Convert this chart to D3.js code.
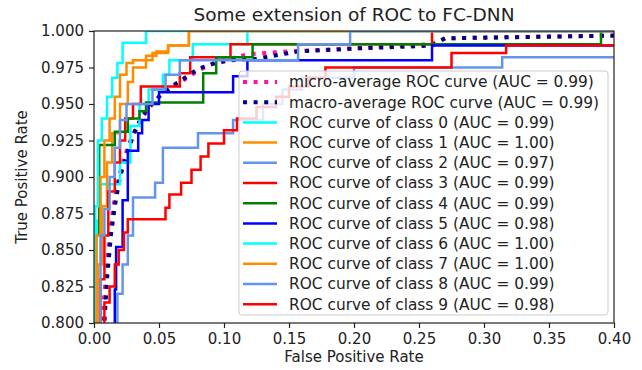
<!DOCTYPE html>
<html>
<head>
<meta charset="utf-8">
<script src="https://cdn.jsdelivr.net/npm/d3@7"></script>
<style>
  body { margin: 0; background: #fff; }
  text { font-family: "DejaVu Sans", sans-serif; fill: #222; }
</style>
</head>
<body>
<script>
// values: [false positive rate, true positive rate]
const microROC = [[0.004,0.78],[0.006,0.8],[0.008,0.82],[0.01,0.84],[0.012,0.86],[0.015,0.88],[0.019,0.9],[0.024,0.915],[0.028,0.925],[0.033,0.935],[0.038,0.942],[0.045,0.95],[0.053,0.958],[0.062,0.963],[0.072,0.968],[0.08,0.973],[0.09,0.977],[0.1,0.98],[0.118,0.984],[0.15,0.986],[0.2,0.988],[0.26,0.991],[0.27,0.995],[0.41,0.997]];
const macroROC = [[0.006,0.78],[0.008,0.8],[0.01,0.83],[0.013,0.86],[0.016,0.88],[0.02,0.9],[0.025,0.915],[0.03,0.928],[0.036,0.94],[0.042,0.948],[0.05,0.955],[0.06,0.962],[0.07,0.968],[0.08,0.974],[0.093,0.978],[0.105,0.98],[0.125,0.981],[0.157,0.986],[0.2,0.988],[0.26,0.99],[0.27,0.995],[0.41,0.997]];

// class curves: each point is where the step goes up (fpr, tpr after the jump)
const class0ROC = [[0.002,0.7],[0.002,0.87],[0.005,0.895],[0.02,0.91],[0.028,0.935],[0.035,0.95],[0.042,0.96],[0.053,0.97],[0.058,0.98],[0.076,0.991],[0.118,1.0],[0.41,1.0]];
const class1ROC = [[0.003,0.7],[0.003,0.84],[0.006,0.88],[0.01,0.91],[0.014,0.93],[0.02,0.95],[0.026,0.965],[0.03,0.975],[0.04,0.983],[0.048,0.986],[0.057,0.99],[0.073,1.0],[0.41,1.0]];
const class2ROC = [[0.012,0.7],[0.018,0.82],[0.022,0.84],[0.026,0.86],[0.03,0.886],[0.047,0.896],[0.053,0.92],[0.08,0.93],[0.107,0.939],[0.13,0.95],[0.145,0.96],[0.16,0.968],[0.2,0.975],[0.314,0.982],[0.41,0.982]];
const class3ROC = [[0.005,0.7],[0.005,0.83],[0.008,0.86],[0.011,0.89],[0.016,0.91],[0.02,0.925],[0.024,0.94],[0.03,0.95],[0.036,0.962],[0.066,0.971],[0.074,0.982],[0.105,0.991],[0.26,1.0],[0.41,1.0]];
const class4ROC = [[0.001,0.7],[0.001,0.86],[0.004,0.922],[0.016,0.931],[0.026,0.94],[0.035,0.945],[0.04,0.951],[0.084,0.971],[0.094,0.982],[0.122,0.991],[0.39,1.0],[0.41,1.0]];
const class5ROC = [[0.016,0.7],[0.016,0.823],[0.017,0.852],[0.022,0.884],[0.026,0.918],[0.034,0.93],[0.037,0.939],[0.042,0.95],[0.05,0.958],[0.107,0.969],[0.118,0.98],[0.26,0.99],[0.41,0.99]];
const class6ROC = [[0.001,0.7],[0.001,0.88],[0.003,0.925],[0.006,0.94],[0.01,0.955],[0.014,0.968],[0.018,0.978],[0.022,0.992],[0.04,1.0],[0.41,1.0]];
const class7ROC = [[0.002,0.7],[0.002,0.86],[0.005,0.9],[0.008,0.925],[0.012,0.94],[0.016,0.955],[0.02,0.97],[0.025,0.978],[0.03,0.98],[0.045,0.985],[0.057,0.99],[0.073,1.0],[0.41,1.0]];
const class8ROC = [[0.005,0.7],[0.005,0.86],[0.008,0.878],[0.012,0.9],[0.016,0.92],[0.02,0.939],[0.025,0.95],[0.045,0.96],[0.055,0.97],[0.066,0.98],[0.157,0.991],[0.197,1.0],[0.41,1.0]];
const class9ROC = [[0.008,0.7],[0.008,0.814],[0.012,0.825],[0.016,0.84],[0.019,0.85],[0.023,0.862],[0.026,0.871],[0.055,0.879],[0.058,0.888],[0.067,0.896],[0.075,0.905],[0.082,0.914],[0.088,0.923],[0.1,0.932],[0.11,0.94],[0.125,0.948],[0.14,0.955],[0.15,0.962],[0.165,0.968],[0.178,0.975],[0.275,0.985],[0.317,0.99],[0.41,0.99]];

const classAUC = ["0.99","1.00","0.97","0.99","0.99","0.98","1.00","1.00","0.99","0.98"];
const averageAUC = ["0.99","0.99"];
const xTicks = [0, 0.05, 0.10, 0.15, 0.20, 0.25, 0.30, 0.35, 0.40];
const yTicks = [0.800, 0.825, 0.850, 0.875, 0.900, 0.925, 0.950, 0.975, 1.000];

const classColors = ["aqua","darkorange","cornflowerblue","red","green","blue","aqua","darkorange","cornflowerblue","red"];

function drawROC() {

const margin = {top:31, right:28, left:94, bottom:47};
const outerWidth = 642;
const outerHeight = 370;
const innerWidth = outerWidth - margin.left - margin.right;
const innerHeight = outerHeight - margin.top - margin.bottom;

const classCurves = [class0ROC, class1ROC, class2ROC, class3ROC, class4ROC,
                     class5ROC, class6ROC, class7ROC, class8ROC, class9ROC];

const svg = d3.select("body").append("svg")
    .attr("width", outerWidth)
    .attr("height", outerHeight);

const g = svg.append("g")
    .attr("transform", "translate(" + margin.left + "," + margin.top + ")");

const x = d3.scaleLinear().domain([0, 0.4]).range([0, innerWidth]);
const y = d3.scaleLinear().domain([0.8, 1.0]).range([innerHeight, 0]);

g.append("clipPath").attr("id", "plot-clip")
  .append("rect")
    .attr("width", innerWidth)
    .attr("height", innerHeight);

const plot = g.append("g").attr("clip-path", "url(#plot-clip)");

const smoothLine = d3.line().x(d => x(d[0])).y(d => y(d[1]));
const stepLine = d3.line().x(d => x(d[0])).y(d => y(d[1])).curve(d3.curveStepAfter);

// averages first, dotted like matplotlib ':' with lw 4
plot.append("path")
    .attr("d", smoothLine(microROC))
    .attr("fill", "none")
    .attr("stroke", "deeppink")
    .attr("stroke-width", 4)
    .attr("stroke-dasharray", "4,6.6");
plot.append("path")
    .attr("d", smoothLine(macroROC))
    .attr("fill", "none")
    .attr("stroke", "navy")
    .attr("stroke-width", 4)
    .attr("stroke-dasharray", "4,6.6");

plot.selectAll(".roc")
  .data(classCurves)
  .join("path")
    .attr("class", "roc")
    .attr("d", d => stepLine(d))
    .attr("fill", "none")
    .attr("stroke", (d, i) => classColors[i])
    .attr("stroke-width", 2.5)
    .attr("stroke-linejoin", "miter");

// axes
const xAxis = g.append("g")
    .attr("transform", "translate(0," + innerHeight + ")")
    .call(d3.axisBottom(x).tickValues(xTicks).tickFormat(d3.format(".2f")).tickSize(5).tickPadding(5));
const yAxis = g.append("g")
    .call(d3.axisLeft(y).tickValues(yTicks).tickFormat(d3.format(".3f")).tickSize(5).tickPadding(5));

[xAxis, yAxis].forEach(ax => {
  ax.select(".domain").remove();
  ax.selectAll("line").attr("stroke", "#222").attr("stroke-width", 1.2);
  ax.selectAll("text").style("font-size", "15px").style("font-family", "DejaVu Sans").attr("fill", "#222");
});

// spines
g.append("rect")
    .attr("width", innerWidth)
    .attr("height", innerHeight)
    .attr("fill", "none")
    .attr("stroke", "#222")
    .attr("stroke-width", 1.2);

// legend, lower right
const labels = ["micro-average ROC curve (AUC = " + averageAUC[0] + ")",
                "macro-average ROC curve (AUC = " + averageAUC[1] + ")"]
  .concat(classAUC.map((a, i) => "ROC curve of class " + i + " (AUC = " + a + ")"));
const handles = [{color: "deeppink", dotted: true}, {color: "navy", dotted: true}]
  .concat(classColors.map(c => ({color: c, dotted: false})));

const legW = 369, legH = 244, rowH = 20.2;
const legend = g.append("g")
    .attr("transform", "translate(" + (innerWidth - 6 - legW) + "," + (innerHeight - 8 - legH) + ")");

legend.append("rect")
    .attr("width", legW)
    .attr("height", legH)
    .attr("rx", 3)
    .attr("fill", "white")
    .attr("fill-opacity", 0.8)
    .attr("stroke", "#cccccc")
    .attr("stroke-width", 1);

const rows = legend.selectAll(".entry")
  .data(labels)
  .join("g")
    .attr("class", "entry")
    .attr("transform", (d, i) => "translate(0," + (11 + i * rowH) + ")");

rows.append("line")
    .attr("x1", 4).attr("x2", 38)
    .attr("y1", 0).attr("y2", 0)
    .attr("stroke", (d, i) => handles[i].color)
    .attr("stroke-width", (d, i) => handles[i].dotted ? 4 : 2.5)
    .attr("stroke-dasharray", (d, i) => handles[i].dotted ? "4,6.6" : null);

rows.append("text")
    .attr("x", 50)
    .attr("dy", "0.35em")
    .style("font-size", "15.4px")
    .text(d => d);

// titles
svg.append("text")
    .attr("x", margin.left + innerWidth / 2)
    .attr("y", 21)
    .attr("text-anchor", "middle")
    .style("font-size", "18.5px")
    .text("Some extension of ROC to FC-DNN");

svg.append("text")
    .attr("x", margin.left + innerWidth / 2)
    .attr("y", 362)
    .attr("text-anchor", "middle")
    .style("font-size", "15px")
    .text("False Positive Rate");

svg.append("text")
    .attr("transform", "translate(27," + (margin.top + innerHeight / 2) + ") rotate(-90)")
    .attr("text-anchor", "middle")
    .style("font-size", "15px")
    .text("True Positive Rate");
}

drawROC();
</script>
</body>
</html>
